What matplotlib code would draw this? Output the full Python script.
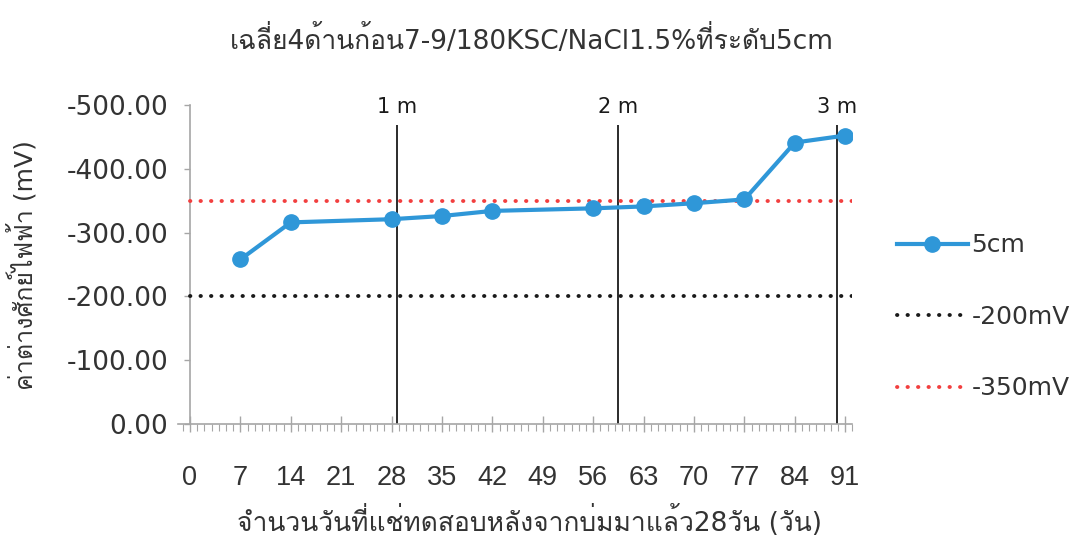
import matplotlib
matplotlib.use("Agg")
import matplotlib.pyplot as plt
from matplotlib import font_manager
from matplotlib.ft2font import FT2Font
from matplotlib.ticker import MultipleLocator, FormatStrFormatter

# --- data -------------------------------------------------------------
days = [7, 14, 28, 35, 42, 56, 63, 70, 77, 84, 91]
potential_5cm = [-258, -316, -321, -326, -334, -338, -341, -346, -352, -441, -452]

ref_levels = [-200, -350]
ref_labels = ["-200mV", "-350mV"]
ref_colors = ["#1a1a1a", "#f23f3f"]

month_days = [28.7, 59.4, 89.8]
month_labels = ["1 m", "2 m", "3 m"]

x_ticks = list(range(0, 92, 7))
y_ticks = [0, -100, -200, -300, -400, -500]

title = "เฉลี่ย4ด้านก้อน7-9/180KSC/NaCl1.5%ที่ระดับ5cm"
x_title = "จำนวนวันที่แช่ทดสอบหลังจากบ่มมาแล้ว28วัน (วัน)"
y_title = "ค่าต่างศักย์ไฟฟ้า (mV)"
series_label = "5cm"


def find_thai_family():
    seen = set()
    for f in font_manager.fontManager.ttflist:
        if f.fname in seen:
            continue
        seen.add(f.fname)
        try:
            if 0x0E01 in FT2Font(f.fname).get_charmap():
                return f.name
        except Exception:
            pass
    return None


thai = find_thai_family()
mixed = ["DejaVu Sans"] + ([thai] if thai else [])

plt.rcParams["font.family"] = mixed
plt.rcParams["axes.unicode_minus"] = False

text_col = "#333333"
axis_col = "#a6a6a6"

fig = plt.figure(figsize=(10.75, 5.35), dpi=100)
ax = fig.add_axes([0.166, 0.207, 0.627, 0.597])

# main series
(series_line,) = ax.plot(days, potential_5cm, color="#2f97d8", lw=3.0,
                         marker="o", ms=11, label=series_label, zorder=4)

# reference levels
ref_handles = []
for lvl, lab, col in zip(ref_levels, ref_labels, ref_colors):
    (h,) = ax.plot([0, 92], [lvl, lvl], color=col, lw=2.8,
                   linestyle=(0, (0.1, 2.6)), dash_capstyle="round",
                   label=lab, zorder=3)
    ref_handles.append(h)

# month markers
for d, lab in zip(month_days, month_labels):
    ax.vlines(d, 0, -469, color="#1a1a1a", lw=1.3, zorder=2)
    ax.text(d, -497, lab, ha="center", va="center", fontsize=15,
            color="#1a1a1a", family="DejaVu Sans")

ax.set_xlim(-1.6, 92)
ax.set_ylim(0, -500)

ax.spines["top"].set_visible(False)
ax.spines["right"].set_visible(False)
ax.spines["left"].set_position(("data", 0))
for s in ("left", "bottom"):
    ax.spines[s].set_color(axis_col)
    ax.spines[s].set_linewidth(1.2)

ax.set_xticks(x_ticks)
ax.xaxis.set_minor_locator(MultipleLocator(1))
ax.set_yticks(y_ticks)
ax.yaxis.set_major_formatter(FormatStrFormatter("%.2f"))

ax.tick_params(axis="x", which="major", direction="inout", length=11,
               width=1.0, color=axis_col, pad=24, labelcolor=text_col)
ax.tick_params(axis="x", which="minor", direction="out", length=5,
               width=0.8, color=axis_col)
ax.tick_params(axis="y", which="major", direction="out", length=4.5,
               width=1.0, color=axis_col, labelsize=19, pad=11,
               labelcolor=text_col)
ax.set_xticklabels([str(t) for t in x_ticks], family="Liberation Sans",
                   fontsize=19.5)

fig.text(0.495, 0.925, title, ha="center", va="center", fontsize=19,
         color=text_col)
fig.text(0.493, 0.027, x_title, ha="center", va="center", fontsize=19,
         color=text_col)
fig.text(0.021, 0.505, y_title, ha="center", va="center", fontsize=18,
         rotation=90, color=text_col)

fig.legend(handles=[series_line] + ref_handles,
           loc="center left", bbox_to_anchor=(0.834, 0.4075),
           frameon=False, fontsize=18, labelspacing=1.9,
           handlelength=2.85, handletextpad=0.15,
           borderpad=0, borderaxespad=0,
           labelcolor=text_col)

fig.savefig("out.png", dpi=100, facecolor="white")
